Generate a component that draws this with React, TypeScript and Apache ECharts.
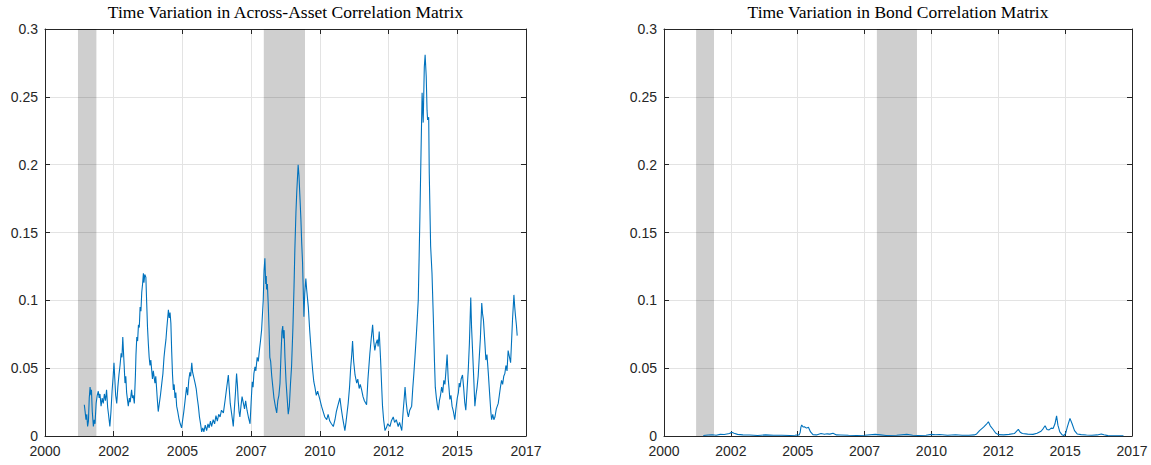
import React, { useEffect, useRef } from "react";
import * as echarts from "echarts";

// ---- data: [year, value] ----
const leftPoints: [number, number][] = [
  [2001.43, 0.023], [2001.46, 0.018], [2001.49, 0.012], [2001.52, 0.016], [2001.55, 0.007],
  [2001.58, 0.011], [2001.61, 0.028], [2001.64, 0.036], [2001.67, 0.030], [2001.69, 0.034],
  [2001.72, 0.018], [2001.76, 0.007], [2001.79, 0.012], [2001.82, 0.009], [2001.86, 0.024],
  [2001.9, 0.030], [2001.94, 0.033], [2001.97, 0.028], [2002.0, 0.031], [2002.04, 0.022],
  [2002.08, 0.028], [2002.12, 0.024], [2002.16, 0.031], [2002.2, 0.026], [2002.24, 0.034],
  [2002.28, 0.021], [2002.31, 0.016], [2002.36, 0.007], [2002.4, 0.018], [2002.44, 0.033],
  [2002.48, 0.044], [2002.51, 0.054], [2002.54, 0.042], [2002.57, 0.030], [2002.61, 0.024],
  [2002.65, 0.036], [2002.69, 0.045], [2002.73, 0.052], [2002.77, 0.061], [2002.8, 0.058],
  [2002.83, 0.073], [2002.86, 0.060], [2002.88, 0.052], [2002.91, 0.039], [2002.94, 0.044],
  [2002.97, 0.032], [2003.03, 0.022], [2003.07, 0.028], [2003.1, 0.025], [2003.15, 0.034],
  [2003.18, 0.028], [2003.21, 0.030], [2003.25, 0.024], [2003.29, 0.045], [2003.31, 0.060],
  [2003.34, 0.073], [2003.37, 0.070], [2003.4, 0.082], [2003.43, 0.080], [2003.46, 0.095],
  [2003.49, 0.092], [2003.52, 0.106], [2003.55, 0.112], [2003.58, 0.120], [2003.6, 0.113],
  [2003.63, 0.119], [2003.67, 0.117], [2003.7, 0.098], [2003.73, 0.080], [2003.76, 0.068],
  [2003.79, 0.058], [2003.82, 0.052], [2003.85, 0.056], [2003.88, 0.049], [2003.91, 0.042],
  [2003.94, 0.048], [2004.0, 0.039], [2004.03, 0.044], [2004.06, 0.035], [2004.09, 0.026],
  [2004.12, 0.018], [2004.16, 0.024], [2004.2, 0.030], [2004.25, 0.039], [2004.29, 0.046],
  [2004.33, 0.058], [2004.36, 0.064], [2004.4, 0.071], [2004.43, 0.079], [2004.46, 0.086],
  [2004.49, 0.093], [2004.52, 0.087], [2004.55, 0.091], [2004.58, 0.083], [2004.61, 0.062],
  [2004.64, 0.045], [2004.67, 0.034], [2004.7, 0.038], [2004.73, 0.028], [2004.76, 0.032],
  [2004.79, 0.022], [2004.83, 0.018], [2004.88, 0.012], [2004.92, 0.009], [2004.97, 0.006],
  [2005.01, 0.012], [2005.05, 0.018], [2005.09, 0.025], [2005.15, 0.036], [2005.19, 0.030],
  [2005.23, 0.041], [2005.27, 0.047], [2005.3, 0.044], [2005.34, 0.054], [2005.37, 0.047],
  [2005.46, 0.039], [2005.5, 0.035], [2005.54, 0.028], [2005.58, 0.022], [2005.62, 0.014],
  [2005.66, 0.009], [2005.7, 0.003], [2005.74, 0.006], [2005.78, 0.003], [2005.83, 0.008],
  [2005.88, 0.004], [2005.93, 0.009], [2005.97, 0.006], [2006.02, 0.011], [2006.06, 0.007],
  [2006.12, 0.012], [2006.17, 0.009], [2006.22, 0.015], [2006.27, 0.011], [2006.32, 0.016],
  [2006.37, 0.014], [2006.42, 0.019], [2006.49, 0.017], [2006.55, 0.026], [2006.6, 0.034],
  [2006.67, 0.045], [2006.7, 0.036], [2006.74, 0.024], [2006.78, 0.018], [2006.82, 0.012],
  [2006.85, 0.007], [2006.89, 0.020], [2006.93, 0.032], [2006.97, 0.046], [2007.0, 0.038],
  [2007.03, 0.026], [2007.06, 0.018], [2007.09, 0.014], [2007.13, 0.022], [2007.17, 0.029],
  [2007.21, 0.025], [2007.26, 0.020], [2007.3, 0.026], [2007.35, 0.019], [2007.4, 0.014],
  [2007.46, 0.009], [2007.5, 0.025], [2007.54, 0.040], [2007.57, 0.036], [2007.6, 0.046],
  [2007.64, 0.051], [2007.67, 0.048], [2007.72, 0.058], [2007.76, 0.055], [2007.8, 0.063],
  [2007.84, 0.070], [2007.88, 0.078], [2007.94, 0.100], [2007.97, 0.122], [2008.0, 0.131],
  [2008.03, 0.112], [2008.05, 0.118], [2008.06, 0.108], [2008.09, 0.112], [2008.12, 0.098],
  [2008.15, 0.080], [2008.18, 0.058], [2008.21, 0.055], [2008.25, 0.044], [2008.29, 0.036],
  [2008.33, 0.028], [2008.38, 0.022], [2008.43, 0.017], [2008.47, 0.026], [2008.51, 0.030],
  [2008.55, 0.039], [2008.59, 0.062], [2008.62, 0.077], [2008.65, 0.081], [2008.67, 0.072],
  [2008.7, 0.078], [2008.73, 0.058], [2008.77, 0.040], [2008.81, 0.028], [2008.85, 0.016],
  [2008.89, 0.022], [2008.93, 0.038], [2008.97, 0.051], [2009.02, 0.080], [2009.06, 0.110],
  [2009.09, 0.137], [2009.13, 0.165], [2009.16, 0.180], [2009.21, 0.200], [2009.24, 0.192],
  [2009.28, 0.174], [2009.31, 0.160], [2009.34, 0.142], [2009.37, 0.128], [2009.39, 0.112],
  [2009.42, 0.088], [2009.45, 0.105], [2009.49, 0.116], [2009.52, 0.108], [2009.58, 0.095],
  [2009.63, 0.078], [2009.7, 0.058], [2009.74, 0.048], [2009.78, 0.040], [2009.82, 0.036],
  [2009.87, 0.030], [2009.92, 0.033], [2010.0, 0.027], [2010.06, 0.022], [2010.12, 0.018],
  [2010.18, 0.014], [2010.25, 0.012], [2010.3, 0.016], [2010.36, 0.011], [2010.42, 0.009],
  [2010.49, 0.007], [2010.55, 0.012], [2010.6, 0.018], [2010.65, 0.022], [2010.73, 0.028],
  [2010.78, 0.020], [2010.84, 0.012], [2010.91, 0.004], [2010.95, 0.010], [2011.03, 0.024],
  [2011.08, 0.036], [2011.12, 0.050], [2011.16, 0.060], [2011.19, 0.070], [2011.23, 0.055],
  [2011.28, 0.045], [2011.34, 0.039], [2011.38, 0.042], [2011.43, 0.035], [2011.47, 0.038],
  [2011.52, 0.034], [2011.57, 0.029], [2011.62, 0.026], [2011.7, 0.023], [2011.75, 0.042],
  [2011.82, 0.061], [2011.87, 0.072], [2011.92, 0.082], [2011.96, 0.070], [2012.0, 0.063],
  [2012.04, 0.068], [2012.09, 0.071], [2012.12, 0.066], [2012.16, 0.077], [2012.21, 0.056],
  [2012.25, 0.036], [2012.28, 0.022], [2012.32, 0.012], [2012.37, 0.004], [2012.42, 0.006],
  [2012.47, 0.009], [2012.55, 0.007], [2012.6, 0.011], [2012.67, 0.014], [2012.72, 0.010],
  [2012.78, 0.012], [2012.85, 0.007], [2012.9, 0.010], [2012.98, 0.004], [2013.03, 0.018],
  [2013.07, 0.028], [2013.1, 0.036], [2013.14, 0.025], [2013.18, 0.018], [2013.22, 0.014],
  [2013.27, 0.019], [2013.34, 0.022], [2013.38, 0.035], [2013.42, 0.046], [2013.46, 0.058],
  [2013.5, 0.071], [2013.54, 0.085], [2013.58, 0.100], [2013.61, 0.130], [2013.64, 0.162],
  [2013.68, 0.208], [2013.72, 0.253], [2013.76, 0.231], [2013.8, 0.272], [2013.83, 0.281],
  [2013.87, 0.265], [2013.9, 0.240], [2013.92, 0.233], [2013.96, 0.235], [2013.98, 0.194],
  [2014.03, 0.140], [2014.08, 0.120], [2014.13, 0.086], [2014.17, 0.055], [2014.2, 0.036],
  [2014.24, 0.028], [2014.28, 0.022], [2014.31, 0.019], [2014.35, 0.026], [2014.39, 0.030],
  [2014.43, 0.036], [2014.47, 0.032], [2014.51, 0.041], [2014.55, 0.038], [2014.58, 0.046],
  [2014.63, 0.060], [2014.67, 0.042], [2014.7, 0.035], [2014.73, 0.027], [2014.77, 0.030],
  [2014.81, 0.022], [2014.86, 0.018], [2014.91, 0.012], [2014.95, 0.020], [2015.0, 0.028],
  [2015.04, 0.032], [2015.07, 0.039], [2015.1, 0.036], [2015.14, 0.042], [2015.19, 0.045],
  [2015.23, 0.036], [2015.27, 0.025], [2015.31, 0.019], [2015.35, 0.032], [2015.4, 0.049],
  [2015.44, 0.068], [2015.49, 0.102], [2015.52, 0.080], [2015.56, 0.061], [2015.6, 0.042],
  [2015.64, 0.022], [2015.68, 0.030], [2015.72, 0.036], [2015.76, 0.044], [2015.8, 0.058],
  [2015.84, 0.072], [2015.89, 0.098], [2015.92, 0.090], [2015.95, 0.086], [2016.0, 0.070],
  [2016.04, 0.056], [2016.08, 0.060], [2016.13, 0.046], [2016.18, 0.030], [2016.22, 0.018],
  [2016.25, 0.012], [2016.29, 0.016], [2016.33, 0.012], [2016.37, 0.014], [2016.42, 0.020],
  [2016.49, 0.024], [2016.53, 0.030], [2016.57, 0.036], [2016.61, 0.041], [2016.65, 0.038],
  [2016.69, 0.044], [2016.73, 0.046], [2016.77, 0.052], [2016.81, 0.048], [2016.85, 0.063],
  [2016.9, 0.058], [2016.94, 0.054], [2016.98, 0.072], [2017.01, 0.086], [2017.06, 0.104],
  [2017.09, 0.095], [2017.12, 0.088], [2017.15, 0.082], [2017.18, 0.074],
];

const rightPoints: [number, number][] = [
  [2001.47, 0.0004], [2001.65, 0.0007], [2001.8, 0.0009], [2001.95, 0.0006], [2002.1, 0.0012],
  [2002.25, 0.0011], [2002.35, 0.0015], [2002.45, 0.0018], [2002.53, 0.0027], [2002.62, 0.002],
  [2002.75, 0.0012], [2002.95, 0.0008], [2003.2, 0.0007], [2003.5, 0.0004], [2003.8, 0.0008],
  [2004.1, 0.0005], [2004.4, 0.0006], [2004.7, 0.0004], [2004.9, 0.0005], [2005.05, 0.0008],
  [2005.09, 0.0025], [2005.12, 0.0065], [2005.15, 0.0081], [2005.2, 0.0066], [2005.25, 0.0068],
  [2005.33, 0.0058], [2005.4, 0.0065], [2005.48, 0.003], [2005.57, 0.001], [2005.7, 0.0008],
  [2005.87, 0.0018], [2006.0, 0.0013], [2006.1, 0.0016], [2006.2, 0.0014], [2006.32, 0.002],
  [2006.45, 0.0008], [2006.6, 0.0007], [2006.9, 0.0005], [2007.2, 0.0004], [2007.5, 0.0006],
  [2007.9, 0.0012], [2008.1, 0.0008], [2008.3, 0.0004], [2008.7, 0.0006], [2009.08, 0.0012],
  [2009.3, 0.0006], [2009.5, 0.0004], [2009.8, 0.0006], [2010.0, 0.0012], [2010.15, 0.0009],
  [2010.3, 0.0011], [2010.6, 0.0006], [2010.9, 0.0009], [2011.15, 0.0005], [2011.4, 0.0005],
  [2011.6, 0.0008], [2011.69, 0.0015], [2011.8, 0.004], [2011.95, 0.0065], [2012.05, 0.0085],
  [2012.13, 0.0105], [2012.2, 0.0075], [2012.3, 0.005], [2012.4, 0.0022], [2012.5, 0.001],
  [2012.7, 0.0008], [2012.9, 0.0012], [2013.1, 0.0018], [2013.25, 0.0049], [2013.32, 0.0028],
  [2013.4, 0.0018], [2013.6, 0.0014], [2013.8, 0.0012], [2013.95, 0.002], [2014.1, 0.0035],
  [2014.18, 0.0055], [2014.25, 0.0076], [2014.32, 0.0048], [2014.4, 0.0045], [2014.48, 0.0058],
  [2014.55, 0.0055], [2014.62, 0.009], [2014.68, 0.0149], [2014.73, 0.008], [2014.8, 0.003],
  [2014.88, 0.001], [2014.95, 0.0003], [2015.02, 0.002], [2015.08, 0.0065], [2015.18, 0.013],
  [2015.26, 0.009], [2015.35, 0.004], [2015.45, 0.0015], [2015.6, 0.001], [2015.8, 0.0007],
  [2016.0, 0.0006], [2016.2, 0.0008], [2016.35, 0.0015], [2016.45, 0.0009], [2016.6, 0.0003],
  [2016.9, 0.0002], [2017.18, 0.0002],
];

const recessions = [
  [2001.2, 2001.87],
  [2007.96, 2009.46],
];

const titles = [
  "Time Variation in Across-Asset Correlation Matrix",
  "Time Variation in Bond Correlation Matrix",
];

const yearTicks = { min: 2000, max: 2017.5, interval: 2.5 };
const valueTicks = { min: 0, max: 0.3, interval: 0.05 };

const grids = [
  { left: 45, top: 29, width: 481, height: 407 },
  { left: 664, top: 29, width: 468, height: 407 },
];

const AXIS = "#262626";
const GRIDLINE = "#e3e3e3";
const LINE = "#0072BD";

export default function App() {
  const ref = useRef<HTMLDivElement>(null);
  useEffect(() => {
    if (!ref.current) return;
    const chart = echarts.init(ref.current, undefined, { renderer: "svg" });
    const xAxes: any[] = [];
    const yAxes: any[] = [];
    grids.forEach((_, gi) => {
      const baseX = {
        gridIndex: gi,
        type: "value",
        ...yearTicks,
        axisLine: { show: true, onZero: false, lineStyle: { color: AXIS, width: 1 } },
        axisTick: { show: true, inside: true, length: 5, lineStyle: { color: AXIS } },
      };
      xAxes.push({
        ...baseX,
        position: "bottom",
        splitLine: { show: true, lineStyle: { color: GRIDLINE, width: 1 } },
        axisLabel: {
          show: true,
          margin: 8,
          fontSize: 14,
          fontFamily: "Liberation Sans, Arial, sans-serif",
          color: AXIS,
          formatter: (v: number) => String(Math.floor(v)),
        },
      });
      xAxes.push({
        ...baseX,
        position: "top",
        splitLine: { show: false },
        axisLabel: { show: false },
      });
      const baseY = {
        gridIndex: gi,
        type: "value",
        ...valueTicks,
        axisLine: { show: true, onZero: false, lineStyle: { color: AXIS, width: 1 } },
        axisTick: { show: true, inside: true, length: 5, lineStyle: { color: AXIS } },
      };
      yAxes.push({
        ...baseY,
        position: "left",
        splitLine: { show: true, lineStyle: { color: GRIDLINE, width: 1 } },
        axisLabel: {
          show: true,
          margin: 7,
          fontSize: 14,
          fontFamily: "Liberation Sans, Arial, sans-serif",
          color: AXIS,
          formatter: (v: number) => String(+v.toFixed(2)),
        },
      });
      yAxes.push({
        ...baseY,
        position: "right",
        splitLine: { show: false },
        axisLabel: { show: false },
      });
    });

    const seriesData = [leftPoints, rightPoints];

    const series = seriesData.map((data, gi) => ({
      type: "line",
      xAxisIndex: gi * 2,
      yAxisIndex: gi * 2,
      data,
      showSymbol: false,
      symbol: "none",
      lineStyle: { color: LINE, width: 1.1 },
      z: 3,
      markArea: {
        silent: true,
        itemStyle: { color: "rgba(0,0,0,0.19)" },
        data: recessions.map(([a, b]) => [{ xAxis: a }, { xAxis: b }]),
      },
    }));

    chart.setOption({
      animation: false,
      backgroundColor: "#ffffff",
      grid: grids.map((g) => ({ ...g, containLabel: false })),
      xAxis: xAxes,
      yAxis: yAxes,
      series,
      graphic: titles.map((t, gi) => ({
        type: "text",
        x: grids[gi].left + grids[gi].width / 2,
        y: 3,
        style: {
          text: t,
          font: '17.5px "Liberation Serif", "Times New Roman", serif',
          fill: "#000000",
          align: "center",
          verticalAlign: "top",
        },
      })),
    });
    return () => chart.dispose();
  }, []);
  return (
    <div
      ref={ref}
      style={{ position: "absolute", left: 0, top: 0, width: 1151, height: 465 }}
    />
  );
}
